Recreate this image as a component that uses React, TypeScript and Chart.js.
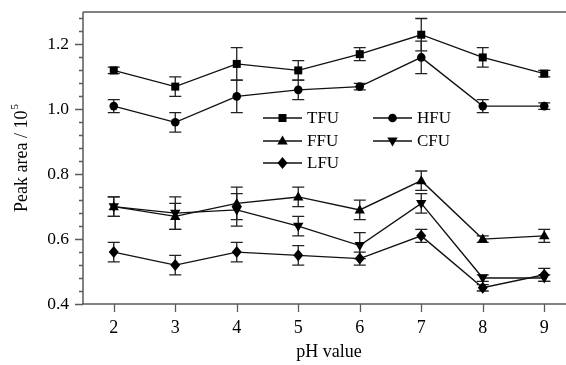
import React, { useEffect, useRef } from 'react';
import { Chart, registerables } from 'chart.js';
Chart.register(...registerables);

const phValues = [2, 3, 4, 5, 6, 7, 8, 9];
const seriesNames = ['TFU', 'HFU', 'FFU', 'CFU', 'LFU'];
const tfu = [1.12, 1.07, 1.14, 1.12, 1.17, 1.23, 1.16, 1.11];
const tfuErr = [0.01, 0.03, 0.05, 0.03, 0.02, 0.05, 0.03, 0.01];
const hfu = [1.01, 0.96, 1.04, 1.06, 1.07, 1.16, 1.01, 1.01];
const hfuErr = [0.02, 0.03, 0.05, 0.03, 0.01, 0.05, 0.02, 0.01];
const ffu = [0.70, 0.67, 0.71, 0.73, 0.69, 0.78, 0.60, 0.61];
const ffuErr = [0.03, 0.04, 0.05, 0.03, 0.03, 0.03, 0.01, 0.02];
const cfu = [0.70, 0.68, 0.69, 0.64, 0.58, 0.71, 0.48, 0.48];
const cfuErr = [0.03, 0.05, 0.05, 0.03, 0.04, 0.03, 0.01, 0.01];
const lfu = [0.56, 0.52, 0.56, 0.55, 0.54, 0.61, 0.45, 0.49];
const lfuErr = [0.03, 0.03, 0.03, 0.03, 0.02, 0.02, 0.01, 0.02];
const yMajorTicks = [0.4, 0.6, 0.8, 1.0, 1.2];
const xTickLabels = ['2', '3', '4', '5', '6', '7', '8', '9'];
const xTitle = 'pH value';
const yTitleMain = 'Peak area / 10';
const yTitleSup = '5';

const seriesValues = [tfu, hfu, ffu, cfu, lfu];
const seriesErrors = [tfuErr, hfuErr, ffuErr, cfuErr, lfuErr];
const markerStyles = ['rect', 'circle', 'triangle', 'triangleDown', 'diamond'];

const FONT = '"Liberation Serif", "Times New Roman", serif';

function drawMarker(ctx: CanvasRenderingContext2D, style: string, x: number, y: number) {
  ctx.beginPath();
  if (style === 'rect') {
    ctx.rect(x - 4, y - 4, 8, 8);
  } else if (style === 'circle') {
    ctx.arc(x, y, 4.3, 0, Math.PI * 2);
  } else if (style === 'triangle') {
    ctx.moveTo(x, y - 5.5);
    ctx.lineTo(x + 5.2, y + 3.5);
    ctx.lineTo(x - 5.2, y + 3.5);
    ctx.closePath();
  } else if (style === 'triangleDown') {
    ctx.moveTo(x, y + 5.5);
    ctx.lineTo(x + 5.2, y - 3.5);
    ctx.lineTo(x - 5.2, y - 3.5);
    ctx.closePath();
  } else {
    ctx.moveTo(x, y - 6);
    ctx.lineTo(x + 5, y);
    ctx.lineTo(x, y + 6);
    ctx.lineTo(x - 5, y);
    ctx.closePath();
  }
  ctx.fillStyle = '#000';
  ctx.fill();
}

const customPlugin = {
  id: 'customDraw',
  afterDatasetsDraw(chart: any) {
    const ctx: CanvasRenderingContext2D = chart.ctx;
    const xs = chart.scales.x;
    const ys = chart.scales.y;
    ctx.save();
    ctx.strokeStyle = '#222';
    ctx.lineWidth = 1.3;
    seriesValues.forEach((vals, si) => {
      const errs = seriesErrors[si];
      vals.forEach((v, i) => {
        const e = errs[i];
        const px = xs.getPixelForValue(phValues[i]);
        const top = ys.getPixelForValue(v + e);
        const bot = ys.getPixelForValue(v - e);
        ctx.beginPath();
        ctx.moveTo(px, top);
        ctx.lineTo(px, bot);
        ctx.moveTo(px - 6, top);
        ctx.lineTo(px + 6, top);
        ctx.moveTo(px - 6, bot);
        ctx.lineTo(px + 6, bot);
        ctx.stroke();
      });
    });
    seriesValues.forEach((vals, si) => {
      vals.forEach((v, i) => {
        drawMarker(ctx, markerStyles[si], xs.getPixelForValue(phValues[i]), ys.getPixelForValue(v));
      });
    });
    ctx.restore();
  },
  afterDraw(chart: any) {
    const ctx: CanvasRenderingContext2D = chart.ctx;
    const xs = chart.scales.x;
    const ys = chart.scales.y;
    const area = chart.chartArea;
    ctx.save();
    ctx.strokeStyle = '#5a5a5a';
    ctx.lineWidth = 1.5;
    ctx.beginPath();
    ctx.moveTo(area.left, area.top);
    ctx.lineTo(area.right, area.top);
    ctx.moveTo(area.left, area.top);
    ctx.lineTo(area.left, area.bottom);
    ctx.moveTo(area.left - 1, area.bottom);
    ctx.lineTo(area.right, area.bottom);
    ctx.stroke();
    ctx.lineWidth = 1.3;
    ctx.beginPath();
    for (let k = 0; k <= 22; k++) {
      const v = 0.4 + k * 0.04;
      const py = Math.round(ys.getPixelForValue(v)) + 0.5;
      const len = k % 5 === 0 ? 8 : 4;
      ctx.moveTo(area.left, py);
      ctx.lineTo(area.left - len, py);
    }
    phValues.forEach((p) => {
      const px = Math.round(xs.getPixelForValue(p)) + 0.5;
      ctx.moveTo(px, area.bottom);
      ctx.lineTo(px, area.bottom + 8);
    });
    ctx.stroke();
    ctx.fillStyle = '#000';
    ctx.font = '17.5px ' + FONT;
    ctx.textAlign = 'right';
    ctx.textBaseline = 'middle';
    yMajorTicks.forEach((v) => {
      ctx.fillText(v.toFixed(1), area.left - 14, ys.getPixelForValue(v));
    });
    ctx.font = '18px ' + FONT;
    ctx.textAlign = 'center';
    phValues.forEach((p, i) => {
      ctx.fillText(xTickLabels[i], xs.getPixelForValue(p), area.bottom + 24);
    });
    ctx.fillText(xTitle, (area.left + area.right) / 2, 352);
    ctx.save();
    ctx.translate(22, (area.top + area.bottom) / 2);
    ctx.rotate(-Math.PI / 2);
    ctx.font = '18px ' + FONT;
    const wMain = ctx.measureText(yTitleMain).width;
    ctx.font = '11px ' + FONT;
    const wSup = ctx.measureText(yTitleSup).width;
    const total = wMain + wSup + 1;
    ctx.textAlign = 'left';
    ctx.font = '18px ' + FONT;
    ctx.fillText(yTitleMain, -total / 2, 0);
    ctx.font = '11px ' + FONT;
    ctx.fillText(yTitleSup, -total / 2 + wMain + 1, -7);
    ctx.restore();
    const legendPos = [
      { x: 263, y: 118 },
      { x: 373, y: 118 },
      { x: 263, y: 141 },
      { x: 373, y: 141 },
      { x: 263, y: 163 },
    ];
    ctx.font = '17px ' + FONT;
    ctx.textAlign = 'left';
    ctx.textBaseline = 'middle';
    seriesNames.forEach((name, si) => {
      const p = legendPos[si];
      ctx.strokeStyle = '#111';
      ctx.lineWidth = 1.4;
      ctx.beginPath();
      ctx.moveTo(p.x, p.y);
      ctx.lineTo(p.x + 39, p.y);
      ctx.stroke();
      drawMarker(ctx, markerStyles[si], p.x + 19.5, p.y);
      ctx.fillStyle = '#000';
      ctx.fillText(name, p.x + 44, p.y + 1);
    });
    ctx.restore();
  },
};

export default function App() {
  const canvasRef = useRef<HTMLCanvasElement | null>(null);
  useEffect(() => {
    if (!canvasRef.current) return;
    const chart = new Chart(canvasRef.current, {
      type: 'line',
      data: {
        datasets: seriesNames.map((name, si) => ({
          label: name,
          data: phValues.map((p, i) => ({ x: p, y: seriesValues[si][i] })),
          borderColor: '#111',
          borderWidth: 1.4,
          pointRadius: 0,
          tension: 0,
          fill: false,
        })),
      },
      options: {
        responsive: false,
        animation: false,
        layout: { padding: { top: 12, left: 0, right: 5, bottom: 0 } },
        plugins: { legend: { display: false }, tooltip: { enabled: false } },
        scales: {
          x: {
            type: 'linear',
            min: 1.5,
            max: 9.5,
            grid: { display: false },
            border: { display: false },
            ticks: { display: false },
            afterFit: (s: any) => { s.height = 61; },
          },
          y: {
            type: 'linear',
            min: 0.4,
            max: 1.3,
            grid: { display: false },
            border: { display: false },
            ticks: { display: false },
            afterFit: (s: any) => { s.width = 83; },
          },
        },
      },
      plugins: [customPlugin],
    });
    return () => chart.destroy();
  }, []);
  return (
    <div style={{ position: 'fixed', left: 0, top: 0, width: 566, height: 365, overflow: 'hidden', background: '#fff' }}>
      <canvas ref={canvasRef} width={580} height={365} style={{ display: 'block' }} />
    </div>
  );
}
